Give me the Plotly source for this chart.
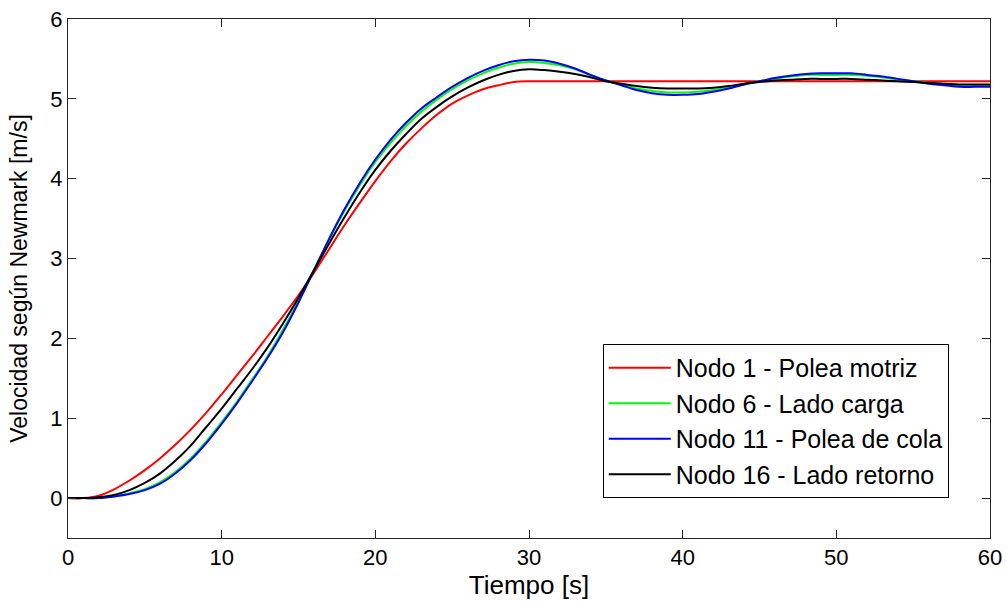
import plotly.graph_objects as go

t = list(range(0, 61))

nodo1 = [0.0, 0.0, 0.03, 0.11, 0.22, 0.35, 0.50, 0.67, 0.86, 1.07, 1.30, 1.54, 1.78, 2.03, 2.28, 2.54, 2.82,
         3.12, 3.42, 3.70, 3.97, 4.22, 4.44, 4.63, 4.80, 4.94, 5.04, 5.12, 5.17, 5.21, 5.22,
         5.22, 5.22, 5.22, 5.22, 5.22, 5.22, 5.22, 5.22, 5.22, 5.22, 5.22, 5.22, 5.22, 5.22, 5.22,
         5.22, 5.22, 5.22, 5.22, 5.22, 5.22, 5.22, 5.22, 5.22, 5.22, 5.22, 5.22, 5.22, 5.22, 5.22]

nodo6 = [0.0, 0.0, 0.0, 0.02, 0.06, 0.11, 0.20, 0.33, 0.50, 0.71, 0.95, 1.21, 1.49, 1.78, 2.11, 2.47, 2.86,
         3.24, 3.60, 3.92, 4.21, 4.45, 4.66, 4.84, 4.99, 5.12, 5.23, 5.32, 5.39, 5.44, 5.46,
         5.45, 5.42, 5.37, 5.30, 5.23, 5.18, 5.13, 5.10, 5.08, 5.08, 5.09, 5.11, 5.14, 5.18, 5.22,
         5.25, 5.28, 5.30, 5.30, 5.30, 5.30, 5.29, 5.27, 5.24, 5.22, 5.20, 5.18, 5.16, 5.16, 5.16]

nodo11 = [0.0, 0.0, 0.0, 0.02, 0.05, 0.10, 0.18, 0.31, 0.48, 0.69, 0.93, 1.19, 1.47, 1.76, 2.08, 2.45, 2.85,
          3.25, 3.62, 3.95, 4.24, 4.49, 4.70, 4.88, 5.02, 5.15, 5.26, 5.35, 5.42, 5.47, 5.49,
          5.48, 5.44, 5.38, 5.30, 5.23, 5.17, 5.11, 5.07, 5.05, 5.05, 5.06, 5.09, 5.13, 5.18, 5.22,
          5.26, 5.29, 5.31, 5.32, 5.32, 5.32, 5.30, 5.28, 5.25, 5.22, 5.19, 5.17, 5.15, 5.15, 5.15]

nodo16 = [0.0, 0.0, 0.01, 0.04, 0.10, 0.19, 0.31, 0.47, 0.66, 0.89, 1.12, 1.37, 1.62, 1.89, 2.19, 2.51, 2.85,
          3.19, 3.52, 3.83, 4.11, 4.35, 4.56, 4.75, 4.90, 5.03, 5.14, 5.23, 5.30, 5.35, 5.37,
          5.36, 5.34, 5.31, 5.27, 5.22, 5.19, 5.16, 5.14, 5.13, 5.13, 5.13, 5.14, 5.16, 5.19, 5.21,
          5.23, 5.24, 5.25, 5.25, 5.25, 5.25, 5.24, 5.23, 5.22, 5.21, 5.20, 5.19, 5.18, 5.18, 5.18]

names = ["Nodo 1 - Polea motriz", "Nodo 6 - Lado carga",
         "Nodo 11 - Polea de cola", "Nodo 16 - Lado retorno"]
colors = ["#FF0000", "#00FF00", "#0000FF", "#000000"]
series = [nodo1, nodo6, nodo11, nodo16]

x_ticks = [0, 10, 20, 30, 40, 50, 60]
y_ticks = [0, 1, 2, 3, 4, 5, 6]

fig = go.Figure()
for name, col, ys in zip(names, colors, series):
    fig.add_trace(go.Scatter(x=t, y=ys, mode="lines", name=name,
                             line=dict(color=col, width=2, shape="spline", smoothing=1.0)))

family = "Liberation Sans, Arial, sans-serif"
tick_font = dict(family=family, size=22, color="#000000")
legend_font = dict(family=family, size=25, color="#000000")
xtitle_font = dict(family=family, size=26, color="#000000")
ytitle_font = dict(family=family, size=23, color="#000000")

axis_common = dict(showgrid=False, zeroline=False, showline=True, linecolor="#262626",
                   linewidth=1, mirror="allticks", ticks="inside", ticklen=8,
                   tickcolor="#262626", tickfont=tick_font, automargin=False)

fig.update_layout(
    width=1007, height=603,
    margin=dict(l=68, r=17, t=19, b=65),
    paper_bgcolor="white", plot_bgcolor="white",
    font=tick_font,
    showlegend=True,
    legend=dict(x=0.580, y=0.374, xanchor="left", yanchor="top",
                bordercolor="#000000", borderwidth=1, bgcolor="white",
                font=legend_font, itemwidth=62, tracegroupgap=0),
    xaxis=dict(range=[0, 60], tickvals=x_ticks,
               title=dict(text="Tiempo [s]", font=xtitle_font, standoff=0), **axis_common),
    yaxis=dict(range=[-0.5, 6], tickvals=y_ticks,
               title=dict(text="Velocidad según Newmark [m/s]", font=ytitle_font, standoff=16),
               **axis_common),
)

fig.write_html("out.html")
